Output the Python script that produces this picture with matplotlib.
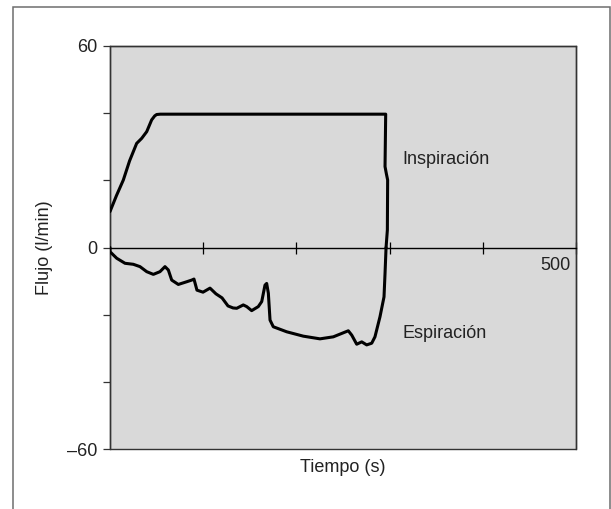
import matplotlib
matplotlib.use("Agg")
import matplotlib.pyplot as plt
from matplotlib import patches, transforms

plt.rcParams['font.family'] = ['Liberation Sans', 'DejaVu Sans']

# Inspiratory limb: rise, plateau at ~40 l/min, then drop back to zero
insp_t = [0, 7, 14.3, 21, 28.6, 34, 39.4, 44.7, 48, 50.1, 54, 120, 200, 260, 295.8,
          295.1, 296.5, 297.9, 297.6, 296.2]
insp_q = [10.7, 15.5, 20.1, 25.8, 31.0, 32.5, 34.5, 38.0, 39.2, 39.6, 39.7, 39.7, 39.7, 39.7, 39.7,
          24.1, 22.0, 20.1, 5.2, 0.0]

# Expiratory limb
exp_t = [0, 0, 7.2, 16.1, 25, 32.2, 39.4, 46.5, 53.6, 59, 62.6, 66.2, 73.3, 82.3, 87.7, 90.1,
         93.3, 99.8, 107.3, 113.7, 120.2, 126.6, 132, 136, 143, 146.7, 152, 159.1, 162.8,
         166.3, 168.1, 169.9, 171.7, 175.2, 189.6, 207.4, 225.3, 239.6, 250.3, 255.7, 259.4,
         264.7, 270.1, 275.4, 280.8, 284.3, 289.7, 294, 295.1, 296.2]
exp_q = [0, -1.25, -3.2, -4.7, -5.0, -5.7, -7.2, -8.0, -7.2, -5.7, -6.7, -9.7, -11.0, -10.2,
         -9.7, -9.4, -12.7, -13.3, -12.1, -13.8, -15.0, -17.4, -18.0, -18.1, -17.1, -17.6,
         -18.8, -17.6, -16.1, -11.2, -10.7, -13.6, -21.6, -23.6, -25.1, -26.4, -27.2, -26.6,
         -25.4, -24.8, -26.1, -28.8, -28.1, -29.0, -28.5, -26.6, -20.6, -14.7, -7.7, 0.0]

x_ticks = [100, 200, 300, 400, 500]
x_tick_labels = ['', '', '', '', '500']
y_ticks = [-60, -40, -20, 0, 20, 40, 60]
y_tick_labels = ['\u201360', '', '', '0', '', '', '60']

text_color = '#222222'
edge_color = '#333333'

fig = plt.figure(figsize=(6.11, 5.09), dpi=100)
fig.patch.set_facecolor('white')

# open frame around the figure (no bottom edge)
frame = patches.Rectangle((13 / 611, -0.1), 597 / 611, 1.1 - 7 / 509,
                          transform=fig.transFigure, fill=False,
                          edgecolor='#6e6e6e', linewidth=1.1)
fig.patches.append(frame)

ax = fig.add_axes([110 / 611, 60 / 509, 466 / 611, 403 / 509])
ax.set_facecolor('#d9d9d9')
ax.patch.set_edgecolor(edge_color)
ax.patch.set_linewidth(1.0)

ax.plot(insp_t, insp_q, color='black', linewidth=2.2, solid_joinstyle='round',
        solid_capstyle='round', zorder=3)
ax.plot(exp_t, exp_q, color='black', linewidth=2.2, solid_joinstyle='round',
        solid_capstyle='round', zorder=3)

ax.set_xlim(0, 500)
ax.set_ylim(-60, 60)

for side in ['top', 'left', 'right']:
    ax.spines[side].set_color(edge_color)
    ax.spines[side].set_linewidth(1.0)
ax.spines['bottom'].set_position(('data', 0))
ax.spines['bottom'].set_color('black')
ax.spines['bottom'].set_linewidth(1.0)

ax.set_xticks(x_ticks, x_tick_labels)
ax.tick_params(axis='x', direction='inout', length=8, width=0.9, color='black',
               labelsize=13, labelcolor=text_color, pad=3)
shift = transforms.ScaledTranslation(-5 / 100, 0, fig.dpi_scale_trans)
for lbl in ax.get_xticklabels():
    lbl.set_horizontalalignment('right')
    lbl.set_transform(lbl.get_transform() + shift)

ax.set_yticks(y_ticks, y_tick_labels)
ax.tick_params(axis='y', direction='out', length=5, width=0.9, color=edge_color,
               labelsize=13, labelcolor=text_color, pad=4)

ax.set_ylabel('Flujo (l/min)', fontsize=13, color=text_color, labelpad=10)
fig.text(343 / 611, 1 - 468 / 509, 'Tiempo (s)', fontsize=13, color=text_color,
         ha='center', va='center')

ax.text(314, 25.0, 'Inspiración', fontsize=13, color=text_color, va='baseline', ha='left')
ax.text(314, -26.9, 'Espiración', fontsize=13, color=text_color, va='baseline', ha='left')

fig.savefig('out.png', dpi=100)
